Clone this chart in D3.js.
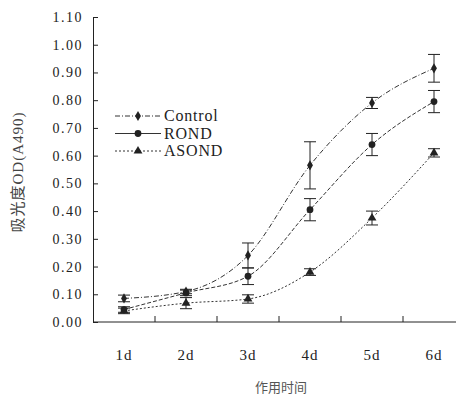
<!DOCTYPE html>
<html lang="en">
<head>
    <meta charset="UTF-8">
    <script src="https://d3js.org/d3.v7.min.js"></script>
    <title>OD A490</title>
    <style>
        body { margin: 0; background: #fff; }
    </style>
</head>
<body>
    <script>
        // data
        var days = ['1d', '2d', '3d', '4d', '5d', '6d'];
        var yTicks = [0, 0.1, 0.2, 0.3, 0.4, 0.5, 0.6, 0.7, 0.8, 0.9, 1.0, 1.1];
        var seriesNames = ['Control', 'ROND', 'ASOND'];
        var controlVals = [0.085, 0.11, 0.24, 0.565, 0.79, 0.915];
        var controlErr  = [0.012, 0.008, 0.045, 0.085, 0.02, 0.05];
        var rondVals    = [0.045, 0.105, 0.165, 0.405, 0.64, 0.795];
        var rondErr     = [0.01, 0.01, 0.03, 0.04, 0.04, 0.04];
        var asondVals   = [0.04, 0.068, 0.083, 0.18, 0.375, 0.61];
        var asondErr    = [0.01, 0.02, 0.015, 0.012, 0.025, 0.015];

        var width = 456, height = 399;
        var serif = '"Liberation Serif", "DejaVu Serif", serif';
        // note: "top" is taken by window.top, so use other names
        var plotLeft = 93, plotTop = 17, plotBottom = 322, plotRight = 465;

        var svg = d3.select('body').append('svg')
            .attr('width', width)
            .attr('height', height);

        var x = d3.scaleBand().domain(days).range([plotLeft, plotRight]);
        var y = d3.scaleLinear().domain([0, 1.1]).range([plotBottom, plotTop]);

        // y axis, ticks pointing inward
        var yAxis = d3.axisLeft(y).tickValues(yTicks)
            .tickFormat(d3.format('.2f'))
            .tickSizeInner(-5).tickSizeOuter(0).tickPadding(10);
        var gy = svg.append('g')
            .attr('transform', 'translate(' + plotLeft + ',0)')
            .call(yAxis)
            .attr('font-family', serif);
        gy.selectAll('text')
            .style('font-family', serif)
            .style('font-size', '14px')
            .style('letter-spacing', '1.5px')
            .style('fill', '#222');

        // x axis: ticks at band boundaries
        var gx = svg.append('g').attr('transform', 'translate(0,' + plotBottom + ')');
        gx.append('line').attr('x1', plotLeft).attr('x2', width).attr('stroke', '#222');
        gx.selectAll('line.tk')
            .data(days.slice(1))
            .enter().append('line')
            .attr('class', 'tk')
            .attr('x1', function(d) { return x(d); })
            .attr('x2', function(d) { return x(d); })
            .attr('y1', 0).attr('y2', -6)
            .attr('stroke', '#222');
        gx.selectAll('text')
            .data(days)
            .enter().append('text')
            .attr('x', function(d) { return x(d) + x.bandwidth() / 2; })
            .attr('y', 38)
            .attr('text-anchor', 'middle')
            .style('font-family', serif)
            .style('font-size', '15px')
            .style('letter-spacing', '1px')
            .style('fill', '#222')
            .text(function(d) { return d; });
        svg.selectAll('.domain').attr('stroke', '#222');
        svg.selectAll('.tick line').attr('stroke', '#222');

        // axis titles
        svg.append('text')
            .attr('x', 281).attr('y', 392)
            .attr('text-anchor', 'middle')
            .style('font-family', '"Noto Sans CJK SC", sans-serif')
            .style('font-size', '13px')
            .style('fill', '#555')
            .text('作用时间');
        svg.append('text')
            .attr('transform', 'translate(23,172) rotate(-90)')
            .attr('text-anchor', 'middle')
            .style('font-family', '"Liberation Serif", "Noto Sans CJK SC", serif')
            .style('font-size', '15px')
            .style('letter-spacing', '1px')
            .style('fill', '#444')
            .text('吸光度OD(A490)');

        var series = [
            { name: seriesNames[0], vals: controlVals, err: controlErr, sym: d3.symbolDiamond, size: 30, dash: '5,2,1,2' },
            { name: seriesNames[1], vals: rondVals, err: rondErr, sym: d3.symbolCircle, size: 36, dash: '4,2' },
            { name: seriesNames[2], vals: asondVals, err: asondErr, sym: d3.symbolTriangle, size: 34, dash: '2,2' }
        ];

        var cx = function(i) { return x(days[i]) + x.bandwidth() / 2; };
        var line = d3.line()
            .x(function(d, i) { return cx(i); })
            .y(function(d) { return y(d); })
            .curve(d3.curveMonotoneX);

        series.forEach(function(s) {
            var g = svg.append('g');
            g.append('path')
                .attr('d', line(s.vals))
                .attr('fill', 'none')
                .attr('stroke', '#333')
                .attr('stroke-width', 1)
                .attr('stroke-dasharray', s.dash);
            var eb = g.selectAll('g.eb')
                .data(s.vals)
                .enter().append('g')
                .attr('class', 'eb');
            eb.append('line')
                .attr('x1', function(d, i) { return cx(i); })
                .attr('x2', function(d, i) { return cx(i); })
                .attr('y1', function(d, i) { return y(d + s.err[i]); })
                .attr('y2', function(d, i) { return y(d - s.err[i]); })
                .attr('stroke', '#222');
            [1, -1].forEach(function(sg) {
                eb.append('line')
                    .attr('x1', function(d, i) { return cx(i) - 6; })
                    .attr('x2', function(d, i) { return cx(i) + 6; })
                    .attr('y1', function(d, i) { return y(d + sg * s.err[i]); })
                    .attr('y2', function(d, i) { return y(d + sg * s.err[i]); })
                    .attr('stroke', '#222');
            });
            eb.append('path')
                .attr('d', d3.symbol().type(s.sym).size(s.size))
                .attr('transform', function(d, i) { return 'translate(' + cx(i) + ',' + y(d) + ')'; })
                .attr('fill', '#222');
        });

        // legend
        var lg = svg.append('g').attr('transform', 'translate(115,116)');
        series.forEach(function(s, i) {
            var row = lg.append('g').attr('transform', 'translate(0,' + i * 17.5 + ')');
            row.append('line').attr('x1', 0).attr('x2', 46)
                .attr('stroke', '#333').attr('stroke-width', 1)
                .attr('stroke-dasharray', i === 1 ? null : s.dash);
            row.append('path')
                .attr('d', d3.symbol().type(s.sym).size(s.size))
                .attr('transform', 'translate(23,0)')
                .attr('fill', '#222');
            row.append('text')
                .attr('x', 49).attr('y', 5)
                .style('font-family', serif)
                .style('font-size', '16px')
                .style('letter-spacing', '0.8px')
                .style('fill', '#222')
                .text(s.name);
        });
    </script>
</body>
</html>
